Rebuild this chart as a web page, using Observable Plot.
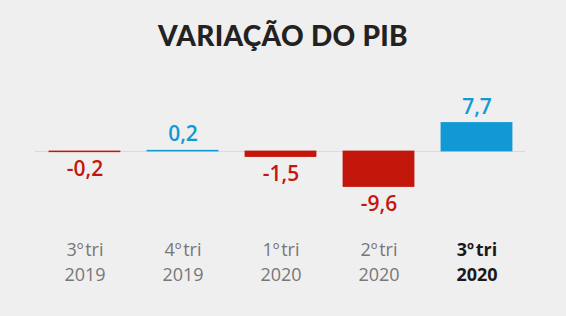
<!DOCTYPE html>
<html>
<head>
<meta charset="utf-8">
<script src="https://cdn.jsdelivr.net/npm/d3@7"></script>
<script src="https://cdn.jsdelivr.net/npm/@observablehq/plot@0.6"></script>
<style>
  html, body { margin: 0; padding: 0; background: #efefef; }
  #wrap { width: 566px; height: 316px; position: relative; overflow: hidden; background: #efefef; }
  #title { position: absolute; left: 0; top: 0; width: 566px; text-align: center;
           font-family: Lato, "Open Sans", sans-serif; font-weight: 900; font-size: 28px;
           color: #222; line-height: 70px; letter-spacing: 0.3px; }
  #chart { position: absolute; left: 0; top: 60px; }
</style>
</head>
<body>
<div id="wrap">
  <div id="title">VARIAÇÃO DO PIB</div>
  <div id="chart"></div>
</div>
<script>
const periods = ["3º tri 2019", "4º tri 2019", "1º tri 2020", "2º tri 2020", "3º tri 2020"];
const quarterLabels = ["3º tri", "4º tri", "1º tri", "2º tri", "3º tri"];
const yearLabels = ["2019", "2019", "2020", "2020", "2020"];
const values = [-0.2, 0.2, -1.5, -9.6, 7.7];
const highlightIndex = 4;

const RED = "#c4170c", BLUE = "#1199d5";
const data = periods.map((p, i) => ({
  period: p, quarter: quarterLabels[i], year: yearLabels[i], value: values[i],
  label: values[i].toFixed(1).replace(".", ","),
  color: values[i] < 0 ? RED : BLUE,
  highlight: i === highlightIndex
}));
const pos = data.filter(d => d.value >= 0);
const neg = data.filter(d => d.value < 0);
const normal = data.filter(d => !d.highlight);
const bold = data.filter(d => d.highlight);

const H = 256;
const zeroY = 91;
const pxPerUnit = 3.7;

const chart = Plot.plot({
  width: 566,
  height: H,
  marginLeft: 35,
  marginRight: 41,
  marginTop: 0,
  marginBottom: 0,
  style: { background: "transparent", overflow: "visible", wordSpacing: "-3px" },
  x: { domain: periods, paddingInner: 0.276, paddingOuter: 0.138, axis: null },
  y: { domain: [-10, 10], range: [zeroY + 10 * pxPerUnit, zeroY - 10 * pxPerUnit], axis: null },
  color: { type: "identity" },
  marks: [
    Plot.ruleY([0], { stroke: "#dadada", strokeWidth: 1.2 }),
    Plot.barY(data, { x: "period", y1: 0, y2: "value", fill: "color", stroke: "color", strokeWidth: 0.8 }),
    Plot.text(pos, { x: "period", y: "value", text: "label", fill: "color", dy: -16,
      fontSize: 21, fontWeight: 600, fontFamily: "Open Sans" }),
    Plot.text(neg, { x: "period", y: "value", text: "label", fill: "color", dy: 17,
      fontSize: 21, fontWeight: 600, fontFamily: "Open Sans" }),
    Plot.text(normal, { x: "period", frameAnchor: "bottom", text: "quarter", dy: -61,
      fill: "#777777", fontSize: 18, fontFamily: "Open Sans" }),
    Plot.text(normal, { x: "period", frameAnchor: "bottom", text: "year", dy: -36,
      fill: "#777777", fontSize: 18, fontFamily: "Open Sans" }),
    Plot.text(bold, { x: "period", frameAnchor: "bottom", text: "quarter", dy: -61,
      fill: "#1a1a1a", fontSize: 18, fontWeight: 700, fontFamily: "Open Sans" }),
    Plot.text(bold, { x: "period", frameAnchor: "bottom", text: "year", dy: -36,
      fill: "#1a1a1a", fontSize: 18, fontWeight: 700, fontFamily: "Open Sans" })
  ]
});
document.getElementById("chart").appendChild(chart);
</script>
</body>
</html>
